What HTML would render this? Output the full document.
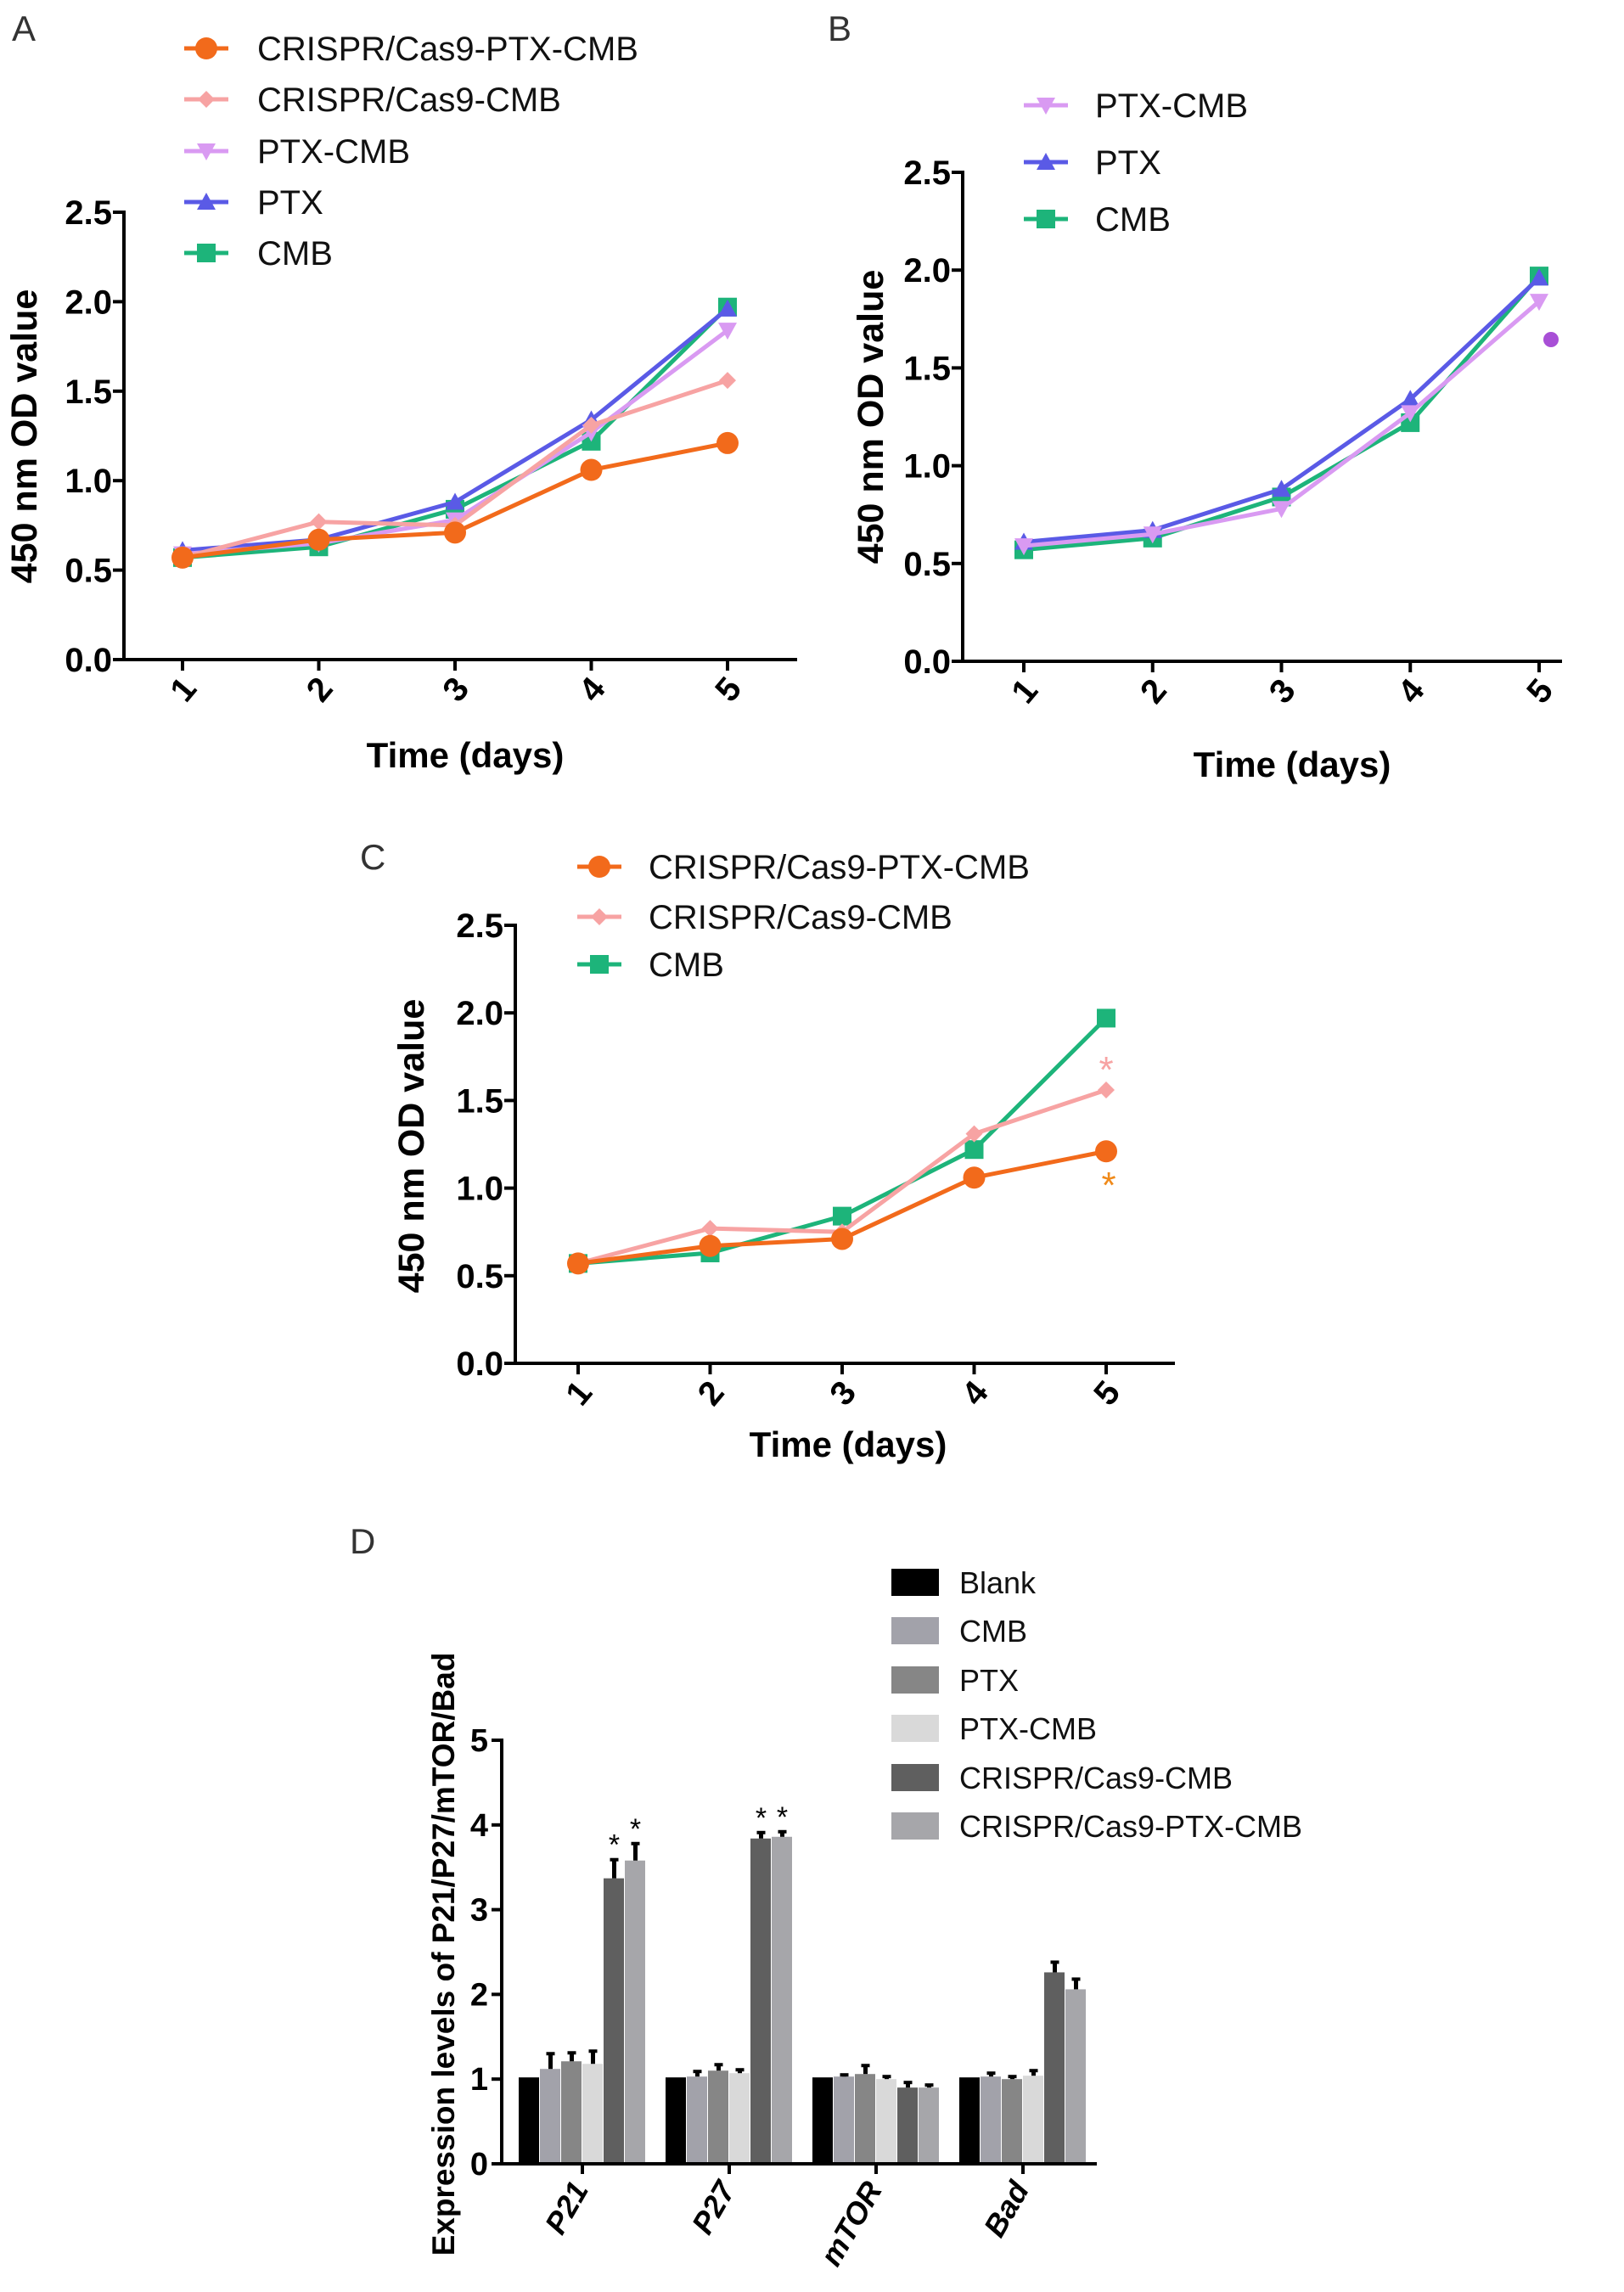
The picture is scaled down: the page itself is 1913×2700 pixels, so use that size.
<!DOCTYPE html>
<html><head><meta charset="utf-8"><style>
html,body{margin:0;padding:0;background:#fff;}
svg{display:block;font-family:"Liberation Sans",sans-serif;}
</style></head><body>
<svg id="fig" width="1913" height="2700" viewBox="0 0 1913 2700" xmlns="http://www.w3.org/2000/svg"></svg>
<script>
// ---- data: line charts ----
const days = [1, 2, 3, 4, 5];
const yTicksLine = [0.0, 0.5, 1.0, 1.5, 2.0, 2.5];
const crisprPtxCmb = [0.57, 0.67, 0.71, 1.06, 1.21];
const crisprCmb = [0.57, 0.77, 0.75, 1.31, 1.56];
const ptxCmb = [0.59, 0.65, 0.78, 1.27, 1.84];
const ptx = [0.61, 0.67, 0.88, 1.34, 1.96];
const cmb = [0.57, 0.63, 0.84, 1.22, 1.97];
// ---- data: bar chart ----
const genes = ["P21", "P27", "mTOR", "Bad"];
const groups = ["Blank", "CMB", "PTX", "PTX-CMB", "CRISPR/Cas9-CMB", "CRISPR/Cas9-PTX-CMB"];
const blankVals = [1.02, 1.02, 1.02, 1.02];
const cmbVals = [1.12, 1.03, 1.03, 1.03];
const ptxVals = [1.21, 1.10, 1.06, 1.00];
const ptxCmbVals = [1.18, 1.07, 1.00, 1.04];
const crisprCmbVals = [3.37, 3.84, 0.90, 2.26];
const crisprPtxCmbVals = [3.58, 3.86, 0.90, 2.06];
const blankErr = [0, 0, 0, 0];
const cmbErr = [0.18, 0.06, 0.02, 0.04];
const ptxErr = [0.10, 0.07, 0.10, 0.03];
const ptxCmbErr = [0.15, 0.04, 0.03, 0.06];
const crisprCmbErr = [0.22, 0.07, 0.06, 0.12];
const crisprPtxCmbErr = [0.20, 0.06, 0.03, 0.12];
const yTicksBar = [0, 1, 2, 3, 4, 5];

const NS = "http://www.w3.org/2000/svg";
const svg = document.getElementById("fig");
function mk(tag, attrs, parent, text) {
  const e = document.createElementNS(NS, tag);
  for (const k in attrs) if (attrs[k] !== null) e.setAttribute(k, attrs[k]);
  if (text !== undefined) e.textContent = text;
  (parent || svg).appendChild(e);
  return e;
}
const COL = {orange:"#f26a1b", pink:"#f7a3a3", violet:"#d99af2", blue:"#5a5ae6", green:"#1db47a"};

function marker(g, type, x, y, color) {
  let m;
  if (type === "circle") m = mk("circle", {cx:x, cy:y, r:13, fill:color}, g);
  else if (type === "square") m = mk("rect", {x:x-11, y:y-11, width:22, height:22, fill:color}, g);
  else if (type === "diamond") m = mk("polygon", {points:`${x},${y-10} ${x+10},${y} ${x},${y+10} ${x-10},${y}`, fill:color}, g);
  else if (type === "tri") m = mk("polygon", {points:`${x},${y-11} ${x+11},${y+9} ${x-11},${y+9}`, fill:color}, g);
  else m = mk("polygon", {points:`${x},${y+11} ${x+11},${y-9} ${x-11},${y-9}`, fill:color}, g);
  return m;
}

function lineChart(cfg) {
  const g = mk("g", {});
  
  
  const X = d => cfg.x1 + (d - 1) * (cfg.x5 - cfg.x1) / 4;
  const Y = v => cfg.y0 - v * (cfg.y0 - cfg.yTop) / 2.5;
  const lbl = mk("text", {x:cfg.labX, y:cfg.labY, "font-size":42, fill:"#333"}, g, cfg.letter);
  
  
  const ya = mk("line", {x1:cfg.ax, y1:cfg.yTop - 2, x2:cfg.ax, y2:cfg.y0, stroke:"#000", "stroke-width":4}, g);
  
  
  const xa = mk("line", {x1:cfg.ax - 2, y1:cfg.y0, x2:cfg.xEnd, y2:cfg.y0, stroke:"#000", "stroke-width":4}, g);
  
  
  yTicksLine.forEach(v => {
    mk("line", {x1:cfg.ax - 13, y1:Y(v), x2:cfg.ax, y2:Y(v), stroke:"#000", "stroke-width":4}, g);
    const t = mk("text", {x:cfg.ax - 14, y:Y(v) + 14, "font-size":40, "font-weight":"bold", "text-anchor":"end"}, g, v.toFixed(1));
    
    
  });
  days.forEach(d => {
    mk("line", {x1:X(d), y1:cfg.y0, x2:X(d), y2:cfg.y0 + 13, stroke:"#000", "stroke-width":4}, g);
    const t = mk("text", {x:X(d) + 2, y:cfg.y0 + 48, "font-size":40, "font-weight":"bold", "text-anchor":"middle", transform:`rotate(-50 ${X(d)+2} ${cfg.y0+36})`}, g, String(d));
    
    
  });
  const xt = mk("text", {x:cfg.xtX, y:cfg.xtY + 15, "font-size":42, "font-weight":"bold", "text-anchor":"middle"}, g, "Time (days)");
  
  
  const yt = mk("text", {x:cfg.ytX + 15, y:cfg.ytY, "font-size":43, "font-weight":"bold", "text-anchor":"middle", transform:`rotate(-90 ${cfg.ytX + 15} ${cfg.ytY})`}, g, "450 nm OD value");
  
  
  cfg.series.forEach(s => {
    const sg = mk("g", {}, g);
    
    
    const pts = s.vals.map((v, i) => `${X(days[i])},${Y(v)}`).join(" ");
    const pl = mk("polyline", {points:pts, fill:"none", stroke:s.color, "stroke-width":5, "stroke-linejoin":"round"}, sg);
    
    
    s.vals.forEach((v, i) => {
      const m = marker(sg, s.type, X(days[i]), Y(v), s.color);
      
      
    });
  });
  cfg.series.slice().reverse().forEach((s, i) => {
    const ly = cfg.legY[i];
    const lg = mk("g", {}, g);
    
    
    mk("line", {x1:cfg.legX - 26, y1:ly, x2:cfg.legX + 26, y2:ly, stroke:s.color, "stroke-width":5}, lg);
    marker(lg, s.type, cfg.legX, ly, s.color);
    mk("text", {x:cfg.legTX, y:ly + 14, "font-size":40, fill:"#111"}, lg, s.label);
  });
  return {g, X, Y};
}

const S = {
  o:{key:"crispr-ptx-cmb", label:"CRISPR/Cas9-PTX-CMB", vals:crisprPtxCmb, color:COL.orange, type:"circle"},
  p:{key:"crispr-cmb", label:"CRISPR/Cas9-CMB", vals:crisprCmb, color:COL.pink, type:"diamond"},
  v:{key:"ptx-cmb", label:"PTX-CMB", vals:ptxCmb, color:COL.violet, type:"tridown"},
  b:{key:"ptx", label:"PTX", vals:ptx, color:COL.blue, type:"tri"},
  g:{key:"cmb", label:"CMB", vals:cmb, color:COL.green, type:"square"}
};

// Panel A
lineChart({name:"panel-a-chart", letter:"A", labX:14, labY:48, ax:146, y0:777, yTop:250, x1:215, x5:857, xEnd:939,
  xtX:548, xtY:889, ytX:28, ytY:514, legX:243, legTX:303, legY:[57,117,178,238,298],
  series:[S.g, S.b, S.v, S.p, S.o]});
// Panel B
const pb = lineChart({name:"panel-b-chart", letter:"B", labX:975, labY:48, ax:1134, y0:779, yTop:203, x1:1206, x5:1813, xEnd:1840,
  xtX:1522, xtY:900, ytX:1025, ytY:491, legX:1232, legTX:1290, legY:[124,191,258],
  series:[S.g, S.b, S.v]});
const dot = mk("circle", {cx:1827, cy:400, r:9, fill:"#a84fd6"}, pb.g);


// Panel C
const pc = lineChart({name:"panel-c-chart", letter:"C", labX:424, labY:1024, ax:607, y0:1606, yTop:1090, x1:681, x5:1303, xEnd:1384,
  xtX:999, xtY:1701, ytX:484, ytY:1350, legX:706, legTX:764, legY:[1021,1080,1136],
  series:[S.g, S.p, S.o]});
const s1 = mk("text", {x:1303, y:1275, "font-size":44, fill:COL.pink, "text-anchor":"middle"}, pc.g, "*");


const s2 = mk("text", {x:1306, y:1411, "font-size":44, fill:"#f08a1a", "text-anchor":"middle"}, pc.g, "*");



// Panel D (bar chart)
(function(){
  const g = mk("g", {});
  
  
  const ax = 591, y0 = 2549, yTop = 2050, xEnd = 1292;
  const Y = v => y0 - v * (y0 - yTop) / 5;
  const gc0 = 686, gStep = 173, bw = 25;
  const series = [blankVals, cmbVals, ptxVals, ptxCmbVals, crisprCmbVals, crisprPtxCmbVals];
  const errs = [blankErr, cmbErr, ptxErr, ptxCmbErr, crisprCmbErr, crisprPtxCmbErr];
  const colors = ["#000000", "#a2a2aa", "#868686", "#d9d9d9", "#5f5f5f", "#a6a6aa"];
  const lbl = mk("text", {x:412, y:1830, "font-size":42, fill:"#333"}, g, "D");
  
  
  series.forEach((vals, si) => {
    vals.forEach((v, gi) => {
      const x = gc0 + gi * gStep - 3 * bw + si * bw;
      const r = mk("rect", {x:x, y:Y(v), width:bw - 1, height:y0 - Y(v), fill:colors[si]}, g);
      
      
      const e = errs[si][gi];
      if (e > 0) {
        const eb = mk("line", {x1:x + bw/2, y1:Y(v + e), x2:x + bw/2, y2:Y(v), stroke:"#000", "stroke-width":5}, g);
        
        
        mk("line", {x1:x + bw/2 - 5, y1:Y(v + e), x2:x + bw/2 + 5, y2:Y(v + e), stroke:"#000", "stroke-width":4}, g);
      }
      if (si >= 4 && gi <= 1) {
        const st = mk("text", {x:x + bw/2, y:Y(v + e) - 6, "font-size":34, "text-anchor":"middle"}, g, "*");
        
        
      }
    });
  });
  const ya = mk("line", {x1:ax, y1:yTop - 2, x2:ax, y2:y0, stroke:"#000", "stroke-width":4}, g);
  
  
  const xa = mk("line", {x1:ax - 2, y1:y0, x2:xEnd, y2:y0, stroke:"#000", "stroke-width":4}, g);
  
  
  yTicksBar.forEach(v => {
    mk("line", {x1:ax - 12, y1:Y(v), x2:ax, y2:Y(v), stroke:"#000", "stroke-width":4}, g);
    const t = mk("text", {x:ax - 16, y:Y(v) + 13, "font-size":38, "font-weight":"bold", "text-anchor":"end"}, g, String(v));
    
    
  });
  genes.forEach((n, gi) => {
    const x = gc0 + gi * gStep;
    mk("line", {x1:x, y1:y0, x2:x, y2:y0 + 12, stroke:"#000", "stroke-width":4}, g);
    const t = mk("text", {x:x + 8, y:y0 + 30, "font-size":36, "font-weight":"bold", "font-style":"italic", "text-anchor":"end", transform:`rotate(-60 ${x + 8} ${y0 + 30})`}, g, n);
    
    
  });
  const yt = mk("text", {x:535, y:2302, "font-size":37, "font-weight":"bold", "text-anchor":"middle", transform:"rotate(-90 535 2302)"}, g, "Expression levels of P21/P27/mTOR/Bad");
  
  
  const legYs = [1864, 1921, 1979, 2036, 2094, 2151];
  groups.forEach((n, i) => {
    const lg = mk("g", {}, g);
    
    
    mk("rect", {x:1050, y:legYs[i] - 16, width:56, height:32, fill:colors[i]}, lg);
    mk("text", {x:1130, y:legYs[i] + 13, "font-size":36, fill:"#111"}, lg, n);
  });
})();
</script>
</body></html>
